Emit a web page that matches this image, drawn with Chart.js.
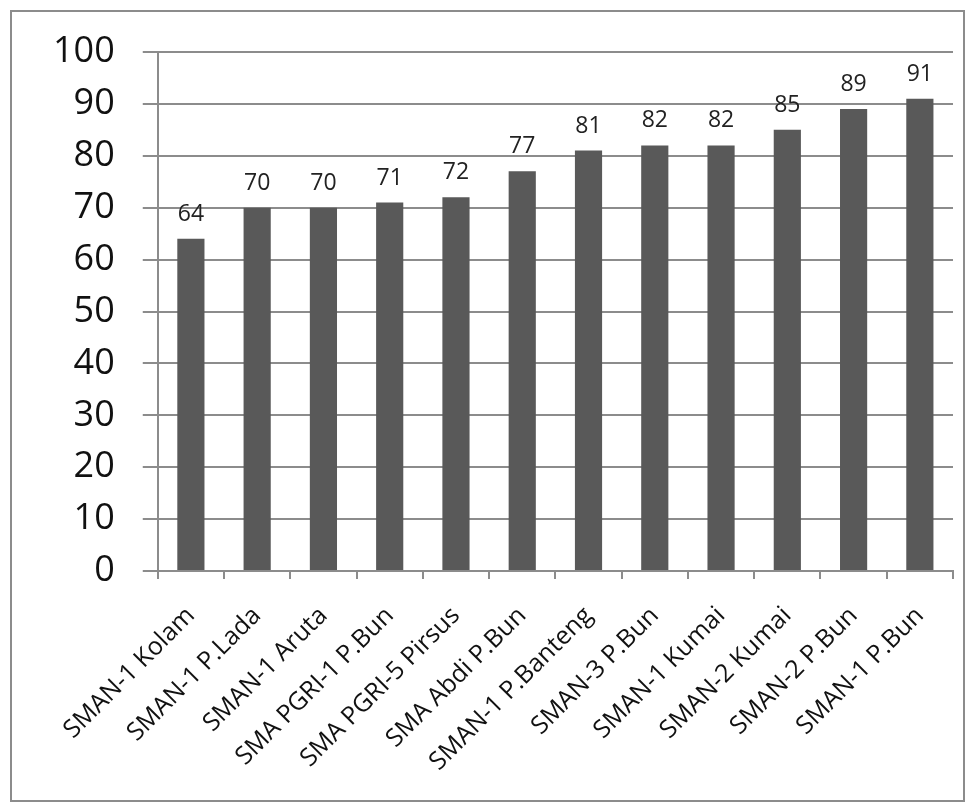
<!DOCTYPE html>
<html>
<head>
<meta charset="utf-8">
<script src="https://cdn.jsdelivr.net/npm/chart.js@4/dist/chart.umd.min.js"></script>
<style>
  body { margin: 0; background: #fff; }
  #frame { position: absolute; left: 10px; top: 10px; width: 951px; height: 788px; border: 2px solid #8c8c8c; }
  #wrap { position: absolute; left: 0; top: 0; width: 973px; height: 806px; }
</style>
</head>
<body>
<div id="frame"></div>
<div id="wrap"><canvas id="chart" width="973" height="806"></canvas></div>
<script>
const schools = ["SMAN-1 Kolam", "SMAN-1 P.Lada", "SMAN-1 Aruta", "SMA PGRI-1 P.Bun", "SMA PGRI-5 Pirsus",
    "SMA Abdi P.Bun", "SMAN-1 P.Banteng", "SMAN-3 P.Bun", "SMAN-1 Kumai", "SMAN-2 Kumai", "SMAN-2 P.Bun", "SMAN-1 P.Bun"]
const scores = [64, 70, 70, 71, 72, 77, 81, 82, 82, 85, 89, 91]
const yTicks = [0, 10, 20, 30, 40, 50, 60, 70, 80, 90, 100]

const fontFamily = "'Open Sans', 'DejaVu Sans', sans-serif"

// draw the value above each bar
const valueLabels = {
    id: 'valueLabels',
    afterDatasetsDraw(chart) {
        const ctx = chart.ctx
        const meta = chart.getDatasetMeta(0)
        ctx.save()
        ctx.font = `23px ${fontFamily}`
        ctx.fillStyle = '#222'
        ctx.textAlign = 'center'
        ctx.textBaseline = 'bottom'
        meta.data.forEach((bar, i) => {
            ctx.fillText(scores[i], bar.x, bar.y - 13)
        })
        ctx.restore()
    }
}

new Chart(document.getElementById('chart').getContext('2d'), {
    type: 'bar',
    data: {
        labels: schools,
        datasets: [{
            data: scores,
            backgroundColor: '#595959',
            borderWidth: 0,
            barPercentage: 0.82,
            categoryPercentage: 0.5
        }]
    },
    options: {
        responsive: false,
        animation: false,
        layout: { padding: { left: 25, top: 52, right: 20, bottom: 0 } },
        plugins: { legend: { display: false }, tooltip: { enabled: false } },
        scales: {
            y: {
                min: 0,
                max: 100,
                afterBuildTicks: (axis) => { axis.ticks = yTicks.map(v => ({ value: v })) },
                ticks: { font: { size: 36, family: fontFamily }, color: '#111', padding: 28 },
                grid: { color: '#8c8c8c', lineWidth: 2, tickLength: 15 },
                border: { color: '#8c8c8c', width: 2 }
            },
            x: {
                afterFit: (scale) => { scale.height = 235 },
                ticks: { font: { size: 25, family: fontFamily }, color: '#111', maxRotation: 45, minRotation: 45, padding: 22 },
                grid: { offset: true, drawOnChartArea: false, color: '#8c8c8c', lineWidth: 2, tickLength: 8 },
                border: { color: '#8c8c8c', width: 2 }
            }
        }
    },
    plugins: [valueLabels]
});
</script>
</body>
</html>
